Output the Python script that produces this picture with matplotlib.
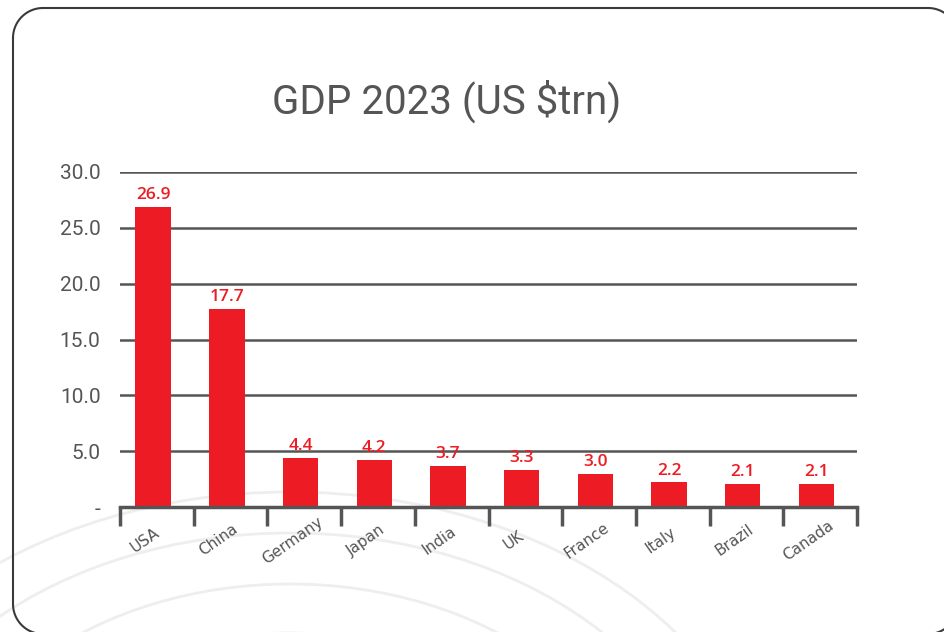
import matplotlib
matplotlib.use('Agg')
import matplotlib.pyplot as plt
from matplotlib.patches import Ellipse
from matplotlib.transforms import ScaledTranslation
import numpy as np

countries = ['USA', 'China', 'Germany', 'Japan', 'India', 'UK', 'France', 'Italy', 'Brazil', 'Canada']
gdp = [26.9, 17.7, 4.4, 4.2, 3.7, 3.3, 3.0, 2.2, 2.1, 2.1]
y_ticks = [0, 5, 10, 15, 20, 25, 30]
y_tick_labels = ['-', '5.0', '10.0', '15.0', '20.0', '25.0', '30.0']

red = '#ED1C24'
grey = '#555555'

W, H = 944, 632
fig = plt.figure(figsize=(W / 100, H / 100), dpi=100)
fig.patch.set_facecolor('white')

# background layer in pixel units (y grows downwards)
bg = fig.add_axes([0, 0, 1, 1], zorder=0)
bg.set_xlim(0, W)
bg.set_ylim(H, 0)
bg.axis('off')

# faint decorative arcs in the lower left
for b in [348, 307, 256, 207, 160]:
    bg.add_patch(Ellipse((290, 840), 2 * 1.38 * b, 2 * b, fill=False,
                         edgecolor='#eeeeee', linewidth=2))


def rounded_rect(x0, y0, x1, y1, rad, n=30):
    t = np.linspace(0, np.pi / 2, n)
    pts = []
    # corners: top-left, top-right, bottom-right, bottom-left
    for cx, cy, a0 in [(x0 + rad, y0 + rad, np.pi), (x1 - rad, y0 + rad, 1.5 * np.pi),
                       (x1 - rad, y1 - rad, 0), (x0 + rad, y1 - rad, 0.5 * np.pi)]:
        a = a0 + t
        pts.append(np.column_stack([cx + rad * np.cos(a), cy + rad * np.sin(a)]))
    pts = np.vstack(pts + [pts[0][:1]])
    return pts[:, 0], pts[:, 1]


bx, by = rounded_rect(13, 8, 958, 634, 30)
bg.plot(bx, by, color='#3a3a3a', linewidth=1.5)

ax = fig.add_axes([120 / W, (H - 507) / H, 737 / W, 335 / H], zorder=1)
ax.patch.set_alpha(0)
x = np.arange(len(countries))
ax.bar(x - 0.05, gdp, width=0.48, color=red, zorder=3)
for xi, v in zip(x, gdp):
    ax.text(xi - 0.05, v + 0.35, f'{v:.1f}', ha='center', va='bottom',
            color=red, fontsize=12.5, fontweight='semibold', family='Open Sans')

ax.set_xlim(-0.5, len(countries) - 0.5)
ax.set_ylim(0, 30)
ax.set_yticks(y_ticks)
ax.set_yticklabels(y_tick_labels, fontsize=15, color=grey, family='Roboto')
ax.tick_params(axis='y', length=0, pad=14)
ax.yaxis.grid(True, color=grey, linewidth=1.8, zorder=1)

# category separators hang below the baseline
ax.set_xticks(np.arange(len(countries) + 1) - 0.5)
ax.set_xticklabels([])
ax.tick_params(axis='x', length=14, width=2.5, color=grey, direction='out')
ax.set_xticks(x, minor=True)
ax.set_xticklabels(countries, minor=True, rotation=35, ha='center', va='center',
                   fontsize=11, color=grey, family='DejaVu Sans')
ax.tick_params(axis='x', which='minor', length=0, pad=24)
shift = ScaledTranslation(-12 / 100, 0, fig.dpi_scale_trans)
for lab in ax.get_xticklabels(minor=True):
    lab.set_transform(lab.get_transform() + shift)

for s in ['top', 'right', 'left']:
    ax.spines[s].set_visible(False)
ax.spines['bottom'].set_color(grey)
ax.spines['bottom'].set_linewidth(2.5)
ax.spines['bottom'].set_zorder(4)

fig.text(447 / W, 1 - 101 / H, 'GDP 2023 (US $trn)', ha='center', va='center',
         fontsize=29, color=grey, family='Roboto')

fig.savefig('out.png', dpi=100, facecolor='white')
